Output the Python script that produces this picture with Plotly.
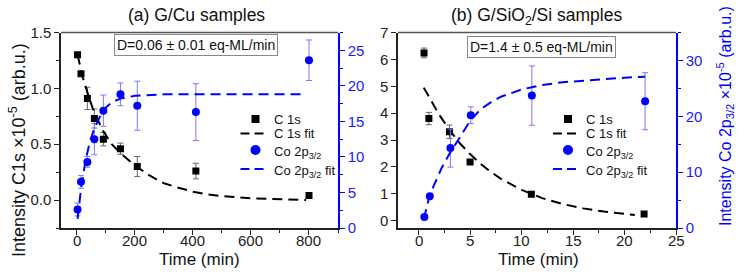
import plotly.graph_objects as go

# ---------------- data: panel (a) G/Cu ----------------
a_t = [2, 14, 36, 60, 91, 150, 208, 410, 800]
a_c1s = [1.30, 1.13, 0.91, 0.73, 0.545, 0.46, 0.30, 0.26, 0.04]
a_c1s_err = [0.02, 0.01, 0.10, 0.085, 0.06, 0.05, 0.09, 0.07, 0.01]
a_co = [2.6, 6.5, 9.3, 12.5, 16.5, 18.8, 17.2, 16.3, 23.6]
a_co_err = [0.9, 0.9, 0.75, 2.2, 2.2, 1.6, 3.45, 4.0, 2.85]

a_c1s_fit_t = [2, 20, 40, 60, 90, 120, 150, 200, 250, 300, 350, 400, 450, 500, 600, 700, 790]
a_c1s_fit = [1.30, 1.10, 0.93, 0.78, 0.62, 0.50, 0.42, 0.31, 0.22, 0.15, 0.11, 0.075, 0.05, 0.035, 0.015, 0.005, 0.0]
a_co_fit_t = [2, 15, 30, 45, 60, 90, 120, 150, 200, 300, 400, 600, 790]
a_co_fit = [1.3, 5.8, 9.6, 12.2, 14.0, 16.6, 17.7, 18.2, 18.6, 18.8, 18.8, 18.8, 18.8]
a_xticks = [0, 200, 400, 600, 800]

# ---------------- data: panel (b) G/SiO2/Si ----------------
b_t = [0.53, 1.0, 3.0, 5.0, 10.95, 21.9]
b_c1s = [6.24, 3.80, 3.31, 2.18, 0.985, 0.25]
b_c1s_err = [0.18, 0.23, 0.25, 0.05, 0.05, 0.05]
b_co_t = [0.56, 1.09, 3.09, 5.07, 11.0, 22.0]
b_co = [1.97, 5.7, 14.3, 20.2, 23.7, 22.7]
b_co_err = [0.3, 0.3, 3.4, 1.5, 5.3, 5.1]

b_c1s_fit_t = [0.5, 1, 2, 3, 4, 5, 6, 7, 8, 10, 12, 14, 16, 18, 20, 21]
b_c1s_fit = [4.95, 4.6, 3.94, 3.38, 2.88, 2.48, 2.12, 1.82, 1.56, 1.15, 0.84, 0.62, 0.46, 0.34, 0.25, 0.21]
b_co_fit_t = [0.5, 1.1, 2.25, 3, 4, 5, 6, 7, 8, 9, 10, 11, 12, 14, 16, 18, 20, 22]
b_co_fit = [1.6, 6.0, 10.8, 13.3, 16.2, 19.2, 21.2, 22.5, 23.5, 24.2, 24.8, 25.2, 25.6, 26.1, 26.4, 26.7, 26.9, 27.1]
b_xticks = [0, 5, 10, 15, 20, 25]

legend_labels = ["C 1s", "C 1s fit", "Co 2p<sub>3/2</sub>", "Co 2p<sub>3/2</sub> fit"]

FONT = "Arial, Liberation Sans, sans-serif"
BLUE = "#0000ff"
BLUE_LABEL = "#1a1aff"
BLUE_ERR = "#7878ff"
GRAY_ERR = "#666666"
DASH = "10px,6px"
TXT = "#111111"

fig = go.Figure()

def add_panel(t, c, ce, cft, cf, tco, co, coe, coft, cof, xa, ya, ya2):
    fig.add_trace(go.Scatter(x=t, y=c, mode="markers", name=legend_labels[0],
        marker=dict(symbol="square", size=7, color="black"),
        error_y=dict(type="data", array=ce, color=GRAY_ERR, thickness=1, width=3),
        xaxis=xa, yaxis=ya))
    fig.add_trace(go.Scatter(x=cft, y=cf, mode="lines", name=legend_labels[1],
        line=dict(color="black", width=2, dash=DASH),
        xaxis=xa, yaxis=ya))
    fig.add_trace(go.Scatter(x=tco, y=co, mode="markers", name=legend_labels[2],
        marker=dict(symbol="circle", size=8, color=BLUE),
        error_y=dict(type="data", array=coe, color=BLUE_ERR, thickness=1, width=3),
        xaxis=xa, yaxis=ya2))
    fig.add_trace(go.Scatter(x=coft, y=cof, mode="lines", name=legend_labels[3],
        line=dict(color=BLUE, width=2, dash=DASH),
        xaxis=xa, yaxis=ya2))

add_panel(a_t, a_c1s, a_c1s_err, a_c1s_fit_t, a_c1s_fit,
          a_t, a_co, a_co_err, a_co_fit_t, a_co_fit, "x", "y", "y2")
add_panel(b_t, b_c1s, b_c1s_err, b_c1s_fit_t, b_c1s_fit,
          b_co_t, b_co, b_co_err, b_co_fit_t, b_co_fit, "x2", "y3", "y4")

W, H = 745, 278
ydom = [(H - 228) / H, (H - 32.5) / H]
tickfont = dict(family=FONT, size=15, color="#222222")
bluefont = dict(family=FONT, size=15, color=BLUE_LABEL)

common_black = dict(showline=True, linecolor="#222222", linewidth=1.5, ticks="outside",
                    ticklen=5, tickwidth=1.3, tickcolor="#222222", showgrid=False,
                    zeroline=False, tickfont=tickfont, automargin=False)
common_blue = dict(showline=True, linecolor=BLUE, linewidth=1.5, ticks="outside",
                   ticklen=5, tickwidth=1.3, tickcolor=BLUE, showgrid=False,
                   zeroline=False, tickfont=bluefont, automargin=False)

fig.update_layout(
    width=W, height=H, margin=dict(l=0, r=0, t=0, b=0, autoexpand=False),
    paper_bgcolor="white", plot_bgcolor="white",
    font=dict(family=FONT, size=14, color=TXT),
    showlegend=False,
    xaxis=dict(domain=[61 / W, 338 / W], range=[-55, 900], anchor="y",
               tickvals=a_xticks, showticklabels=False,
               minor=dict(dtick=100, tick0=0, ticklen=3, ticks="outside", tickcolor="#222222"),
               **common_black),
    yaxis=dict(domain=ydom, range=[-0.25, 1.5], anchor="x",
               tickvals=[0, 0.5, 1.0, 1.5], ticktext=["0.0", "0.5", "1.0", "1.5"],
               minor=dict(dtick=0.25, tick0=0, ticklen=3, ticks="outside", tickcolor="#222222"),
               **common_black),
    yaxis2=dict(domain=ydom, range=[0, 27.5], anchor="x", overlaying="y", side="right",
                tickvals=[0, 5, 10, 15, 20, 25],
                minor=dict(dtick=2.5, tick0=0, ticklen=3, ticks="outside", tickcolor=BLUE),
                **common_blue),
    xaxis2=dict(domain=[398 / W, 676 / W], range=[-2, 25], anchor="y3",
                tickvals=b_xticks, showticklabels=False,
                minor=dict(dtick=2.5, tick0=0, ticklen=3, ticks="outside", tickcolor="#222222"),
                **common_black),
    yaxis3=dict(domain=ydom, range=[-0.27, 7.0], anchor="x2",
                tickvals=[0, 1, 2, 3, 4, 5, 6, 7],
                **common_black),
    yaxis4=dict(domain=ydom, range=[0, 35], anchor="x2", overlaying="y3", side="right",
                tickvals=[0, 10, 20, 30],
                minor=dict(dtick=5, tick0=0, ticklen=3, ticks="outside", tickcolor=BLUE),
                **common_blue),
)

def px(x):
    return x / W

def py(y):
    return (H - y) / H

# top frame lines
for xr, yr in [("x domain", "y domain"), ("x2 domain", "y3 domain")]:
    fig.add_shape(type="line", xref=xr, yref=yr, x0=0, x1=1, y0=1, y1=1,
                  line=dict(color="#555555", width=1.3))

def text(t, x, y, size, color=TXT, angle=0, xanchor="center", **kw):
    fig.add_annotation(xref="paper", yref="paper", x=px(x), y=py(y), text=t,
                       showarrow=False, xanchor=xanchor, yanchor="middle", textangle=angle,
                       font=dict(family=FONT, size=size, color=color), **kw)

# x tick labels, placed through each panel's x scale
for xref, ticks in [("x", a_xticks), ("x2", b_xticks)]:
    for v in ticks:
        fig.add_annotation(xref=xref, yref="paper", x=v, y=py(240), text=str(v),
                           showarrow=False, xanchor="center", yanchor="middle",
                           font=tickfont)

# panel titles
text("(a) G/Cu samples", 196, 15, 17.5)
text("(b) G/SiO<sub>2</sub>/Si samples", 536.5, 17, 17.5)

# x-axis titles
text("Time (min)", 199.5, 259, 17)
text("Time (min)", 538, 259, 17)

# D boxes
text("D=0.06 ± 0.01 eq-ML/min", 195.5, 45.5, 14,
     bordercolor="#888888", borderwidth=1, borderpad=2, bgcolor="white")
text("D=1.4 ± 0.5 eq-ML/min", 541, 46.7, 14,
     bordercolor="#888888", borderwidth=1, borderpad=2, bgcolor="white")

# y-axis titles
text("Intensity C1s ×10<sup>-5</sup> (arb.u.)", 17, 150, 18, angle=-90)
text("Intensity Co 2p<sub>3/2</sub> ×10<sup>-5</sup> (arb.u.)", 725, 116, 16, color=BLUE, angle=-90)

# legends (keys + labels), one per panel
rows = [119, 133.5, 150, 169]
row_text_shift = [0, 0, 2.5, 2.5]
for x0 in [255.5, 568]:
    fig.add_shape(type="rect", xref="paper", yref="paper",
                  x0=px(x0 - 4), x1=px(x0 + 4), y0=py(rows[0] + 4), y1=py(rows[0] - 4),
                  fillcolor="black", line=dict(width=0))
    fig.add_shape(type="line", xref="paper", yref="paper",
                  x0=px(x0 - 15), x1=px(x0 + 8), y0=py(rows[1]), y1=py(rows[1]),
                  line=dict(color="black", width=2, dash="9px,5px"))
    fig.add_shape(type="circle", xref="paper", yref="paper",
                  x0=px(x0 - 5), x1=px(x0 + 5), y0=py(rows[2] + 5), y1=py(rows[2] - 5),
                  fillcolor=BLUE, line=dict(width=0))
    fig.add_shape(type="line", xref="paper", yref="paper",
                  x0=px(x0 - 15), x1=px(x0 + 8), y0=py(rows[3]), y1=py(rows[3]),
                  line=dict(color=BLUE, width=2, dash="9px,5px"))
    for lab, ry, sh in zip(legend_labels, rows, row_text_shift):
        text(lab, x0 + 16, ry + sh, 13, xanchor="left")

fig.write_html("out.html")
